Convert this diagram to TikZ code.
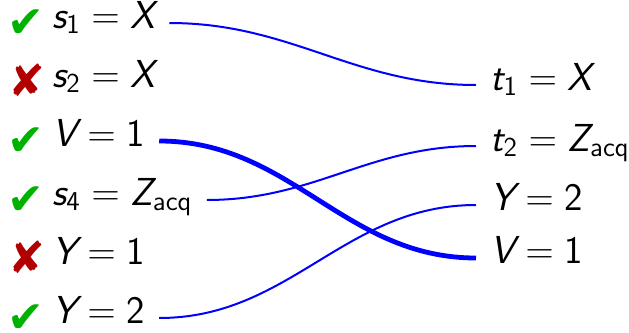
\RequirePackage{fix-cm}
\documentclass[tikz,border=0pt]{standalone}
\usepackage{amsmath}
\usepackage{fontspec}
\newfontfamily\symfont{DejaVu Sans}
\definecolor{cgreen}{rgb}{0,0.7,0}
\definecolor{cred}{rgb}{0.7,0,0}
\newcommand{\mv}[1]{\textsf{\itshape #1}}
\newcommand{\sv}[1]{\textsf{#1}}
\newcommand{\cmk}{{\symfont\color{cgreen}✔}}
\newcommand{\xmk}{{\symfont\color{cred}✘}}
\begin{document}
\begin{tikzpicture}[x=0.5pt,y=-0.5pt,
  lbl/.style={inner xsep=7pt, inner ysep=0pt, text height=0.75em, text depth=0.25em,
    font=\fontsize{19.5}{23}\selectfont\sffamily},
  tick/.style={inner sep=0pt, anchor=base west, font=\fontsize{22}{26}\selectfont},
  conn/.style={draw=blue, line width=1pt},
  thickconn/.style={conn, line width=2.4pt}]
\useasboundingbox (0,0) rectangle (629,333);
% left column
\node[lbl, anchor=west] (s1) at (38,23)  {$\mv{s}_{\sv{1}} = \mv{X}$};
\node[lbl, anchor=west] (s2) at (38,82)  {$\mv{s}_{\sv{2}} = \mv{X}$};
\node[lbl, anchor=west] (v1) at (38,141) {$\mv{V} = \sv{1}$};
\node[lbl, anchor=west] (s4) at (38,200) {$\mv{s}_{\sv{4}} = \mv{Z}_{\sv{acq}}$};
\node[lbl, anchor=west] (y1) at (38,259) {$\mv{Y} = \sv{1}$};
\node[lbl, anchor=west] (y2) at (38,318) {$\mv{Y} = \sv{2}$};
% marks
\node[tick] (m1) at (7,37)  {\cmk};
\node[tick] (m2) at (8,96)  {\xmk};
\node[tick] (m3) at (7,155) {\cmk};
\node[tick] (m4) at (7,214) {\cmk};
\node[tick] (m5) at (8,273) {\xmk};
\node[tick] (m6) at (7,332) {\cmk};
% right column
\node[lbl, anchor=west] (t1)  at (476,85)  {$\mv{t}_{\sv{1}} = \mv{X}$};
\node[lbl, anchor=west] (t2)  at (476,146) {$\mv{t}_{\sv{2}} = \mv{Z}_{\sv{acq}}$};
\node[lbl, anchor=west] (y2r) at (476,205) {$\mv{Y} = \sv{2}$};
\node[lbl, anchor=west] (v1r) at (476,258) {$\mv{V} = \sv{1}$};
% connectors
\draw[conn] (s1.east) to[out=0,in=180] (t1.west);
\draw[thickconn] (v1.east) to[out=0,in=180] (v1r.west);
\draw[conn] (s4.east) to[out=0,in=180] (t2.west);
\draw[conn] (y2.east) to[out=0,in=180] (y2r.west);
\end{tikzpicture}
\end{document}
